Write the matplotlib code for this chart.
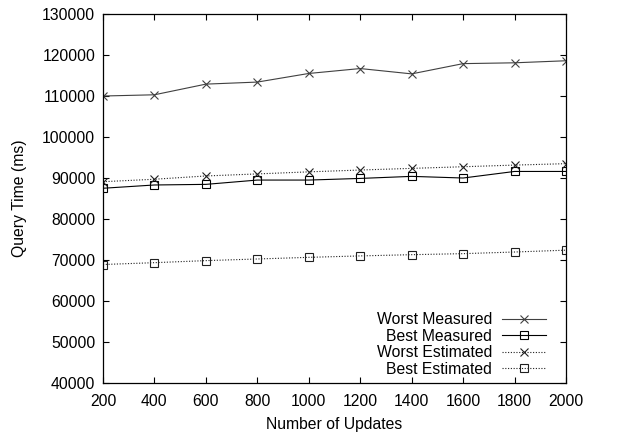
import matplotlib
matplotlib.use('Agg')
import matplotlib.pyplot as plt

plt.rcParams['font.family'] = ['Liberation Sans', 'DejaVu Sans']
plt.rcParams['font.size'] = 11.3

updates = [200, 400, 600, 800, 1000, 1200, 1400, 1600, 1800, 2000]
worst_measured = [110000, 110300, 112900, 113400, 115500, 116700, 115400, 117900, 118100, 118600]
best_measured = [87500, 88300, 88450, 89500, 89500, 89900, 90400, 90000, 91600, 91600]
worst_estimated = [89100, 89700, 90500, 91000, 91500, 91950, 92350, 92750, 93150, 93500]
best_estimated = [68900, 69350, 69850, 70250, 70650, 71000, 71300, 71550, 71950, 72400]

fig = plt.figure(figsize=(6.23, 4.34), dpi=100)
ax = fig.add_axes([0.1653, 0.1175, 0.7432, 0.8502])

dotted = (0, (1, 1.5))
ax.plot(updates, worst_measured, color='#404040', lw=0.8, marker='x', ms=6, mew=0.8,
        label='Worst Measured')
ax.plot(updates, best_measured, color='black', lw=0.8, marker='s', ms=5.5, mew=0.8,
        mfc='none', label='Best Measured')
ax.plot(updates, worst_estimated, color='#202020', lw=0.8, ls=dotted, marker='x',
        ms=6, mew=0.8, label='Worst Estimated')
ax.plot(updates, best_estimated, color='#202020', lw=0.8, ls=dotted, marker='s',
        ms=5.5, mew=0.8, mfc='none', label='Best Estimated')

ax.set_xlim(200, 2000)
ax.set_ylim(40000, 130000)
ax.set_xticks(updates)
ax.set_yticks(range(40000, 130001, 10000))
ax.tick_params(direction='in', top=True, right=True, length=4, width=0.8,
               labelsize=11.3)
ax.tick_params(axis='x', pad=7.7)
ax.tick_params(axis='y', pad=5.5)
for s in ax.spines.values():
    s.set_linewidth(0.9)

ax.set_xlabel('Number of Updates', fontsize=11.3, labelpad=6)
ax.set_ylabel('Query Time (ms)', fontsize=11.3, labelpad=11)

# markerfirst=False right-aligns the entries, like gnuplot's key
leg = ax.legend(loc='lower right', bbox_to_anchor=(0.971, 0.0), frameon=False,
                markerfirst=False, fontsize=11.3, handlelength=2.8,
                handletextpad=0.65, labelspacing=0.1, borderaxespad=0)

fig.savefig('out.png', dpi=100)
